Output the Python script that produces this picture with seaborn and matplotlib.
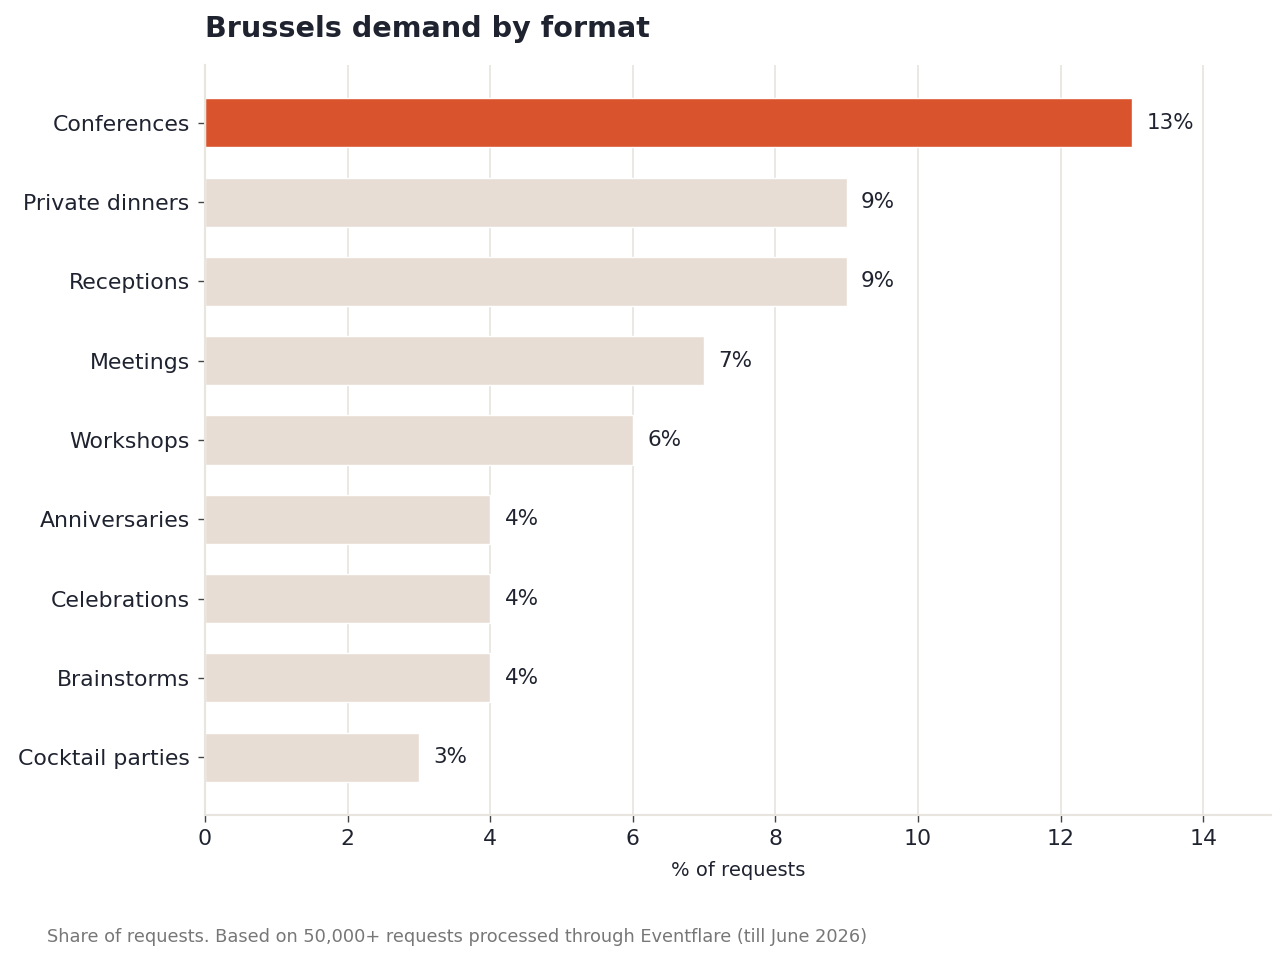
import pandas as pd
import seaborn as sns
import matplotlib.pyplot as plt

formats = ["Conferences", "Private dinners", "Receptions", "Meetings", "Workshops",
           "Anniversaries", "Celebrations", "Brainstorms", "Cocktail parties"]
shares = [13, 9, 9, 7, 6, 4, 4, 4, 3]

df = pd.DataFrame({"format": formats, "share": shares})

sns.set_style("white")
plt.rcParams['font.family'] = ['DejaVu Sans']

ink = "#1f2330"
grid = "#e8e4de"
palette = ["#d9532c"] + ["#e8ddd4"] * (len(formats) - 1)

fig = plt.figure(figsize=(12.87, 9.63), dpi=100)
ax = fig.add_axes([0.1593, 0.1537, 0.8283, 0.7788])

sns.barplot(data=df, y="format", x="share", hue="format", palette=palette,
            saturation=1, legend=False, width=0.62, ax=ax, zorder=2)

# value labels
for i, v in enumerate(shares):
    ax.text(v + 0.2, i, f"{v}%", va="center", ha="left", fontsize=15.5, color=ink)

ax.set_xlim(0, 14.95)
ax.set_ylim(len(formats) - 1 + 0.73, -0.73)
ax.set_xticks(range(0, 15, 2))
ax.xaxis.grid(True, color=grid, linewidth=1.2, zorder=0)
ax.yaxis.grid(False)
ax.set_axisbelow(True)

sns.despine(ax=ax, top=True, right=True)
for s in ["left", "bottom"]:
    ax.spines[s].set_color(grid)
    ax.spines[s].set_linewidth(1.5)

ax.tick_params(axis="both", left=True, bottom=True, length=5, width=1,
               color="#444444", labelsize=15.8, labelcolor=ink, pad=5)
ax.tick_params(axis="y", pad=6)
ax.set_ylabel("")
ax.set_xlabel("% of requests", fontsize=14, color=ink, labelpad=9)

fig.text(0.1593, 0.962, "Brussels demand by format", fontsize=20.6,
         fontweight="bold", color=ink, ha="left", va="baseline")
fig.text(0.0365, 0.022, "Share of requests. Based on 50,000+ requests processed "
         "through Eventflare (till June 2026)", fontsize=12.8, color="#777777",
         ha="left", va="baseline")

fig.savefig("out.png", dpi=100)
